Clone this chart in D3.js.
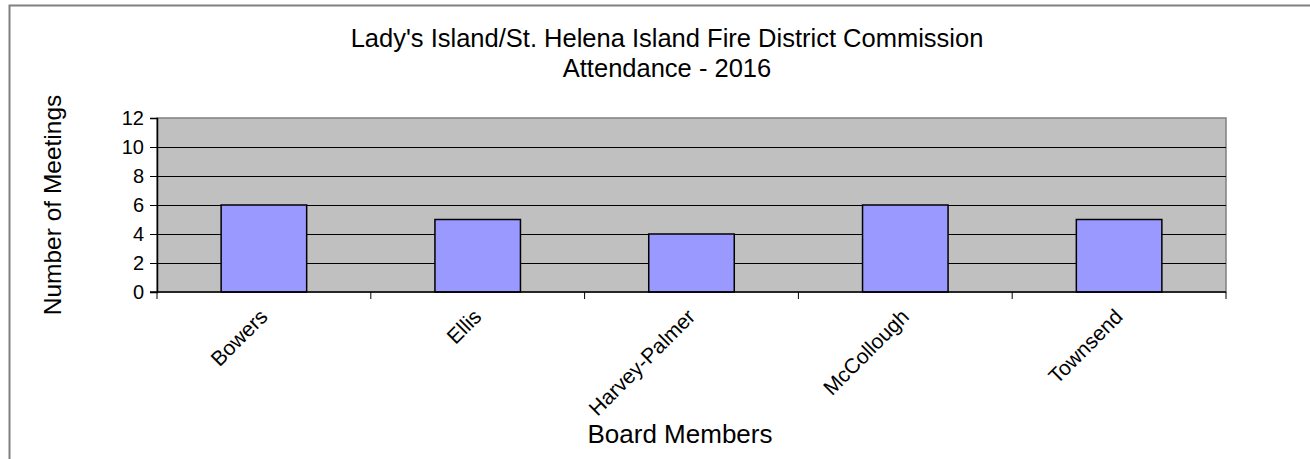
<!DOCTYPE html>
<meta charset='utf-8'>
<style type='text/css'>
body { margin: 0; background: #fff; overflow: hidden; }
svg { display: block; }
text { font-family: Arial, 'Liberation Sans', sans-serif; fill: #000; }
</style>
<div id='chart'></div>
<script src='https://d3js.org/d3.v7.min.js'></script>
<script>

  // chart values
  var members = ['Bowers', 'Ellis', 'Harvey-Palmer', 'McCollough', 'Townsend'];
  var meetings = [6, 5, 4, 6, 5];
  var yTicks = [0, 2, 4, 6, 8, 10, 12];
  var titleLines = ["Lady's Island/St. Helena Island Fire District Commission", 'Attendance - 2016'];

  var W = 1310, H = 459;
  var plot = {left: 157, right: 1226, top: 118, bottom: 292};

  var svg = d3.select('#chart')
    .append('svg')
      .attr('width', W)
      .attr('height', H);

  // outer chart border: only top and left edges are inside the picture
  svg.append('path')
    .attr('d', 'M9.5,' + H + 'V5.5H' + W)
    .attr('fill', 'none')
    .attr('stroke', '#808080')
    .attr('stroke-width', 2);

  var x = d3.scaleBand()
    .domain(members)
    .range([plot.left, plot.right])
    .padding(0);

  var y = d3.scaleLinear()
    .domain([0, 12])
    .range([plot.bottom, plot.top]);

  // plot background
  svg.append('rect')
    .attr('x', plot.left).attr('y', plot.top)
    .attr('width', plot.right - plot.left)
    .attr('height', plot.bottom - plot.top)
    .attr('fill', '#c0c0c0')
    .attr('stroke', '#808080')
    .attr('stroke-width', 1.5);

  // gridlines
  svg.append('g')
    .selectAll('line')
    .data(yTicks.filter(function(d) { return d > 0 && d < 12; }))
    .enter()
    .append('line')
      .attr('x1', plot.left).attr('x2', plot.right)
      .attr('y1', function(d) { return y(d) + 0.5; })
      .attr('y2', function(d) { return y(d) + 0.5; })
      .attr('stroke', '#000')
      .attr('stroke-width', 1);

  // bars
  var barW = x.bandwidth() / 2.5;
  svg.append('g')
    .selectAll('rect')
    .data(meetings)
    .enter()
    .append('rect')
      .attr('x', function(d, i) { return x(members[i]) + (x.bandwidth() - barW) / 2; })
      .attr('y', function(d) { return y(d); })
      .attr('width', barW)
      .attr('height', function(d) { return y(0) - y(d); })
      .attr('fill', '#9999ff')
      .attr('stroke', '#000')
      .attr('stroke-width', 1.5);

  // y axis
  var yAxis = svg.append('g')
    .attr('transform', 'translate(' + plot.left + ',0)')
    .call(d3.axisLeft(y).tickValues(yTicks).tickSize(7).tickPadding(6));
  yAxis.select('.domain').attr('stroke', '#000').attr('stroke-width', 1.5);
  yAxis.selectAll('.tick line').attr('stroke', '#000');
  yAxis.selectAll('.tick text')
    .style('font-family', 'Arial, "Liberation Sans", sans-serif')
    .style('font-size', '20px')
    .attr('fill', '#000');

  // x axis line + ticks at category boundaries
  svg.append('line')
    .attr('x1', plot.left - 7).attr('x2', plot.right)
    .attr('y1', plot.bottom).attr('y2', plot.bottom)
    .attr('stroke', '#000').attr('stroke-width', 1.5);
  var bounds = members.map(function(m) { return x(m); }).concat([plot.right]);
  svg.append('g')
    .selectAll('line')
    .data(bounds)
    .enter()
    .append('line')
      .attr('x1', function(d) { return d; }).attr('x2', function(d) { return d; })
      .attr('y1', plot.bottom).attr('y2', plot.bottom + 7)
      .attr('stroke', '#000');

  // category labels, rotated
  svg.append('g')
    .selectAll('text')
    .data(members)
    .enter()
    .append('text')
      .attr('text-anchor', 'end')
      .style('font-size', '21px')
      .attr('transform', function(d) {
        var cx = x(d) + x.bandwidth() / 2 + 5;
        return 'translate(' + cx + ',' + 318 + ') rotate(-45)';
      })
      .text(function(d) { return d; });

  // titles
  svg.append('g')
    .selectAll('text')
    .data(titleLines)
    .enter()
    .append('text')
      .attr('x', 667)
      .attr('y', function(d, i) { return 47 + i * 30; })
      .attr('text-anchor', 'middle')
      .style('font-size', '25.5px')
      .text(function(d) { return d; });

  svg.append('text')
    .attr('transform', 'translate(61,205) rotate(-90)')
    .attr('text-anchor', 'middle')
    .style('font-size', '24.5px')
    .text('Number of Meetings');

  svg.append('text')
    .attr('x', 680)
    .attr('y', 443)
    .attr('text-anchor', 'middle')
    .style('font-size', '26px')
    .text('Board Members');

</script>
